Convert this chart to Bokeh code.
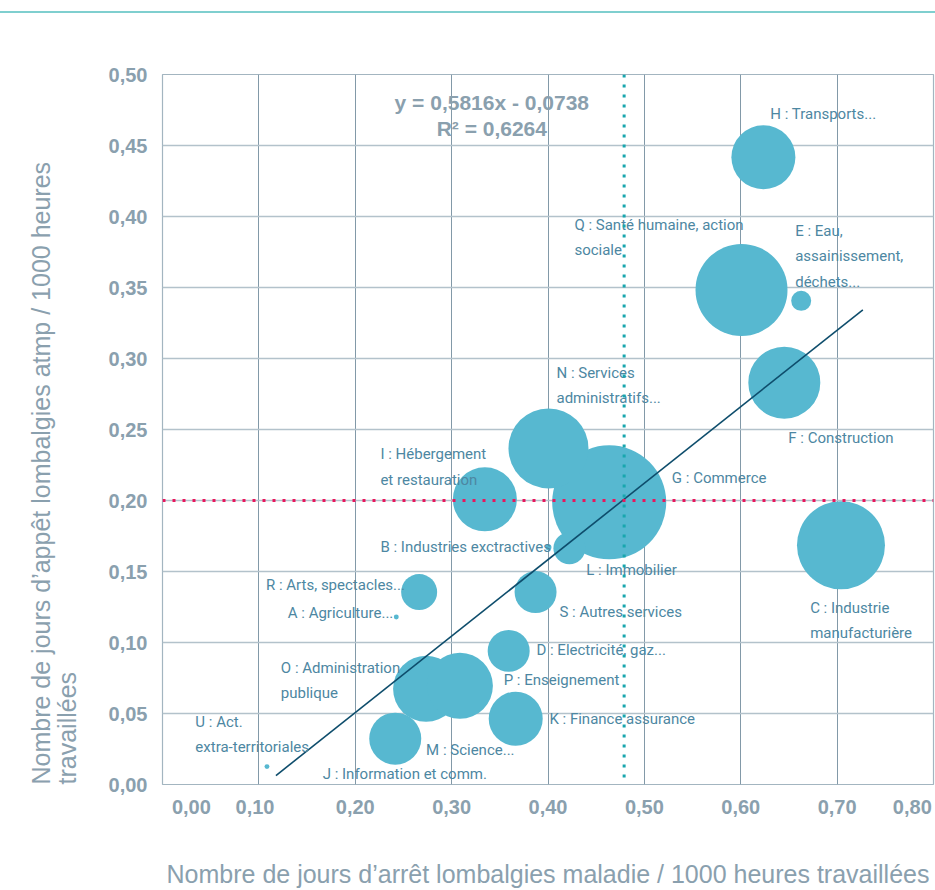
import math
from bokeh.plotting import figure
from bokeh.models import ColumnDataSource, FixedTicker, Span, Title, Div
from bokeh.layouts import column
from bokeh.core.properties import value
from bokeh.embed import file_html
from bokeh.resources import INLINE

# ---------------- data ----------------
codes = ["A", "B", "C", "D", "E", "F", "G", "H", "I", "K",
         "L", "M", "N", "O", "P", "Q", "R", "S", "U"]
arret_maladie = [0.2426, 0.4005, 0.7040, 0.3592, 0.6627, 0.6452, 0.4635, 0.6235, 0.3345, 0.3665,
                 0.4222, 0.2415, 0.4005, 0.2735, 0.3086, 0.6008, 0.2663, 0.3871, 0.1084]
appel_atmp = [0.1180, 0.1671, 0.1685, 0.0941, 0.3406, 0.2830, 0.1987, 0.4417, 0.2008, 0.0463,
              0.1664, 0.0323, 0.2367, 0.0674, 0.0695, 0.3483, 0.1355, 0.1355, 0.0126]
bubble_values = [6, 9, 1936, 441, 100, 1296, 3249, 1024, 1024, 729,
                 256, 676, 1600, 1089, 1089, 2116, 324, 441, 6]

label_texts = [
    "H : Transports...",
    "Q : Santé humaine, action\nsociale",
    "E : Eau,\nassainissement,\ndéchets...",
    "N : Services\nadministratifs...",
    "F : Construction",
    "I : Hébergement\net restauration",
    "G : Commerce",
    "B : Industries exctractives",
    "L : Immobilier",
    "R : Arts, spectacles...",
    "S : Autres services",
    "A : Agriculture...",
    "C : Industrie\nmanufacturière",
    "D : Electricité, gaz...",
    "O : Administration\npublique",
    "P : Enseignement",
    "K : Finance assurance",
    "U : Act.\nextra-territoriales",
    "M : Science...",
    "J : Information et comm.",
]
label_x = [0.6307, 0.4274, 0.6565, 0.4088, 0.6493, 0.2261, 0.5285, 0.2261, 0.4397, 0.1074,
           0.4119, 0.1300, 0.6720, 0.3880, 0.1228, 0.3540, 0.4015, 0.0341, 0.2735, 0.1662]
label_y = [0.4712, 0.3933, 0.3890, 0.2893, 0.2430, 0.2317, 0.2149, 0.1664, 0.1503, 0.1397,
           0.1208, 0.1200, 0.1236, 0.0941, 0.0815, 0.0730, 0.0456, 0.0435, 0.0239, 0.0070]

trend_x = [0.1177, 0.7267]
trend_y = [0.0063, 0.3343]
equation_lines = ["y = 0,5816x - 0,0738", "R² = 0,6264"]
equation_x = [0.3417, 0.3417]
equation_y = [0.4803, 0.4621]

mean_x = 0.479
mean_y = 0.20

x_ticks = [0.0, 0.1, 0.2, 0.3, 0.4, 0.5, 0.6, 0.7, 0.8]
x_tick_labels = ["0,00", "0,10", "0,20", "0,30", "0,40", "0,50", "0,60", "0,70", "0,80"]
y_ticks = [0.0, 0.05, 0.1, 0.15, 0.2, 0.25, 0.3, 0.35, 0.4, 0.45, 0.5]
y_tick_labels = ["0,00", "0,05", "0,10", "0,15", "0,20", "0,25", "0,30", "0,35", "0,40", "0,45", "0,50"]

x_title = "Nombre de jours d’arrêt lombalgies maladie / 1000 heures travaillées"
y_title = "Nombre de jours d’appêt lombalgies atmp / 1000 heures\ntravaillées"

# ---------------- styles ----------------
BUBBLE = "#57b8d0"
LABEL = "#4d87a2"
AXIS_TXT = "#8aa0ae"
XGRID = "#8299a8"
YGRID = "#b3c2cb"
TREND = "#0e4d6c"
VLINE = "#19a6ae"
HLINE = "#e8175d"
TOPBAR = "#7fcfcf"
LABEL_FONT = "Roboto"
SANS = "Liberation Sans"

FRAME_W = 775
p = figure(width=935, height=877, x_range=(0, 0.8), y_range=(0, 0.5),
           output_backend="svg", toolbar_location=None,
           min_border_left=158, min_border_right=2, min_border_top=61, min_border_bottom=104)
p.background_fill_color = "white"
p.border_fill_color = "white"
p.outline_line_color = "#a3b5c0"
p.outline_line_width = 1.2

# grids
p.xgrid.ticker = FixedTicker(ticks=x_ticks)
p.ygrid.ticker = FixedTicker(ticks=y_ticks)
p.xgrid.grid_line_color = XGRID
p.xgrid.grid_line_width = 1
p.ygrid.grid_line_color = YGRID
p.ygrid.grid_line_width = 1.5

# y axis
p.yaxis.ticker = FixedTicker(ticks=y_ticks)
p.yaxis.major_label_overrides = {t: lab for t, lab in zip(y_ticks, y_tick_labels)}

# x axis: edge labels nudged inward like the original (pixel shifts -> data)
x_label_shift_px = [29, -4, 0, 0, 0, 0, 0, 0, -21]
px_per_unit = FRAME_W / 0.8
x_label_pos = [round(t + s / px_per_unit, 3) for t, s in zip(x_ticks, x_label_shift_px)]
p.xaxis.ticker = FixedTicker(ticks=x_label_pos)
p.xaxis.major_label_overrides = {t: lab for t, lab in zip(x_label_pos, x_tick_labels)}

for ax in (p.xaxis, p.yaxis):
    ax.axis_line_color = None
    ax.major_tick_line_color = None
    ax.minor_tick_line_color = None
    ax.major_tick_out = 0
    ax.major_tick_in = 0
    ax.major_label_text_font = SANS
    ax.major_label_text_font_size = "20px"
    ax.major_label_text_font_style = "bold"
    ax.major_label_text_color = AXIS_TXT
p.yaxis.major_label_standoff = 15
p.xaxis.major_label_standoff = 15

p.xaxis.axis_label = x_title
p.xaxis.axis_label_text_font = SANS
p.xaxis.axis_label_text_font_size = "25px"
p.xaxis.axis_label_text_font_style = "normal"
p.xaxis.axis_label_text_color = AXIS_TXT
p.xaxis.axis_label_standoff = 43

# y title: two left-aligned lines (start at the bottom)
p.add_layout(Title(text=y_title, align="left", text_font=SANS, text_font_size="25px",
                   text_font_style="normal", text_color=AXIS_TXT, text_line_height=0.95,
                   standoff=48), "left")

# bubbles
bsrc = ColumnDataSource(dict(x=arret_maladie, y=appel_atmp, code=codes,
                             size=[2 * math.sqrt(v) for v in bubble_values]))
p.scatter("x", "y", size="size", source=bsrc, fill_color=BUBBLE, line_color=None)

# reference lines
p.add_layout(Span(location=mean_x, dimension="height", line_color=VLINE,
                  line_width=3, line_dash="3 7"))
p.add_layout(Span(location=mean_y, dimension="width", line_color=HLINE,
                  line_width=3, line_dash="3 7"))

# trend line
p.line(trend_x, trend_y, line_color=TREND, line_width=1.6)

# data labels
lsrc = ColumnDataSource(dict(x=label_x, y=label_y, text=label_texts))
p.text("x", "y", text="text", source=lsrc, text_font=value(LABEL_FONT), text_font_size="15px",
       text_color=LABEL, text_align="left", text_baseline="top", y_offset=-10,
       text_line_height=1.4)

# equation
esrc = ColumnDataSource(dict(x=equation_x, y=equation_y, text=equation_lines))
p.text("x", "y", text="text", source=esrc, text_font=value(SANS), text_font_size="21px",
       text_font_style="bold", text_color=AXIS_TXT, text_align="center", text_baseline="middle")

top_bar = Div(text="", width=935, height=2, margin=(11, 0, 0, 0),
              styles={"background-color": TOPBAR})

layout = column(top_bar, p)
open("out.html", "w").write(file_html(layout, INLINE))
